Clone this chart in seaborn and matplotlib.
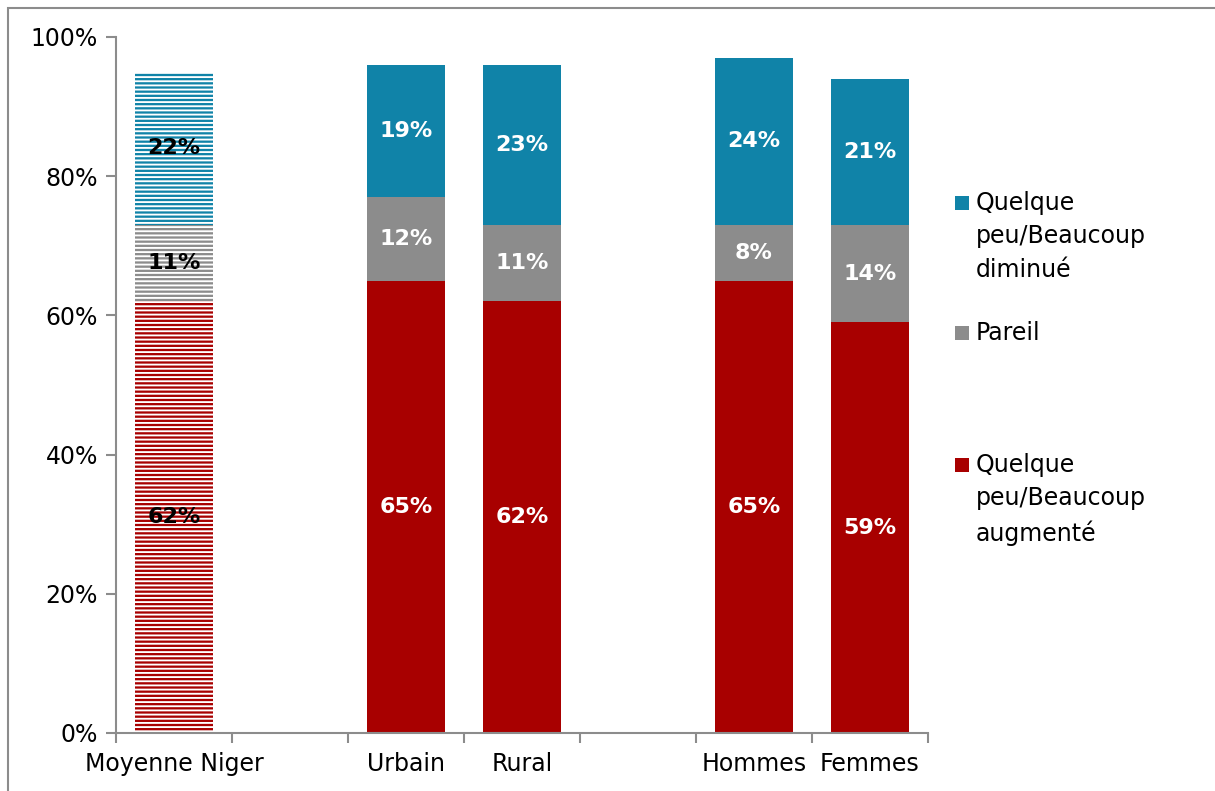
import numpy as np
import pandas as pd
import matplotlib
matplotlib.use("Agg")
import matplotlib.pyplot as plt
from matplotlib.patches import Rectangle
from matplotlib.ticker import PercentFormatter
import seaborn as sns

# Survey groups and answer shares (%)
categories = ["Moyenne Niger", "Urbain", "Rural", "Hommes", "Femmes"]
augmente = [62, 65, 62, 65, 59]
pareil = [11, 12, 11, 8, 14]
diminue = [22, 19, 23, 24, 21]

series_names = ["Quelque\npeu/Beaucoup\naugmenté", "Pareil", "Quelque\npeu/Beaucoup\ndiminué"]
series_colors = ["#A80000", "#8C8C8C", "#1083A8"]
y_ticks = [0, 20, 40, 60, 80, 100]

# Slot order, with empty slots separating the groups
gap_a, gap_b = "\u200b", "\u200b\u200b"
order = [categories[0], gap_a, categories[1], categories[2], gap_b, categories[3], categories[4]]
hatched = {"Moyenne Niger"}

sns.set_theme(style="white")
plt.rcParams["font.family"] = ["DejaVu Sans"]
plt.rcParams["hatch.linewidth"] = 1.35

df = pd.DataFrame({"cat": categories, "aug": augmente, "par": pareil, "dim": diminue})
df["c1"] = df["aug"]
df["c2"] = df["aug"] + df["par"]
df["c3"] = df["aug"] + df["par"] + df["dim"]

fig = plt.figure(figsize=(12.15, 7.91), dpi=100)
ax = fig.add_axes([116 / 1215, 1 - 733 / 791, (928 - 116) / 1215, (733 - 37) / 791])

bar_w = 0.67
# Stack by overlaying cumulative totals, drawn top layer first
for col, color in zip(["c3", "c2", "c1"], series_colors[::-1]):
    n_before = len(ax.patches)
    sns.barplot(data=df, x="cat", y=col, order=order, color=color, saturation=1,
                width=bar_w, linewidth=0, errorbar=None, ax=ax)
    new = ax.patches[n_before:]
    for p in new:
        p.set_linewidth(0)
        cx = p.get_x() + p.get_width() / 2
        idx = int(round(cx))
        if 0 <= idx < len(order) and order[idx] in hatched:
            p.set_hatch("----")
            p.set_edgecolor("white")

# Segment labels
for _, row in df.iterrows():
    pos = order.index(row["cat"])
    tc = "black" if row["cat"] in hatched else "white"
    segs = [(0, row["aug"]), (row["aug"], row["par"]), (row["aug"] + row["par"], row["dim"])]
    for base, val in segs:
        ax.text(pos, base + val / 2, f"{val}%", ha="center", va="center",
                color=tc, fontsize=16, fontweight="bold")

# Axes styling
ax.set_ylim(0, 100)
ax.set_xlim(-0.5, len(order) - 0.5)
ax.set_yticks(y_ticks)
ax.yaxis.set_major_formatter(PercentFormatter(decimals=0))
ax.set_xlabel("")
ax.set_ylabel("")
for s in ["top", "right"]:
    ax.spines[s].set_visible(False)
for s in ["left", "bottom"]:
    ax.spines[s].set_color("#8C8C8C")
    ax.spines[s].set_linewidth(1.5)

ax.set_xticks(np.arange(-0.5, len(order)), labels=[""] * (len(order) + 1))
ax.set_xticks(np.arange(len(order)), labels=[o if o in categories else "" for o in order], minor=True)
ax.tick_params(axis="x", which="major", length=7, width=1.5, color="#8C8C8C", direction="out", bottom=True)
ax.tick_params(axis="x", which="minor", length=0, pad=14, labelsize=17, labelcolor="black")
ax.tick_params(axis="y", length=7, width=1.5, color="#8C8C8C", direction="out", left=True,
               labelsize=17, labelcolor="black", pad=6)

# Legend: square markers beside the first line of each label
legend_rows = [(2, 203), (1, 333), (0, 465)]
for i, ypx in legend_rows:
    fig.patches.append(Rectangle((955 / 1215, 1 - (ypx + 7) / 791), 14 / 1215, 14 / 791,
                                 transform=fig.transFigure, facecolor=series_colors[i],
                                 edgecolor="none"))
    fig.text(976 / 1215, 1 - (ypx - 12) / 791, series_names[i], ha="left", va="top",
             fontsize=17, linespacing=1.5, color="black")

# Chart frame
fig.patches.append(Rectangle((8 / 1215, -0.05), 1.2, 1 - 8 / 791 + 0.05, transform=fig.transFigure,
                             facecolor="none", edgecolor="#8C8C8C", linewidth=1.5))

fig.savefig("out.png", dpi=100)
